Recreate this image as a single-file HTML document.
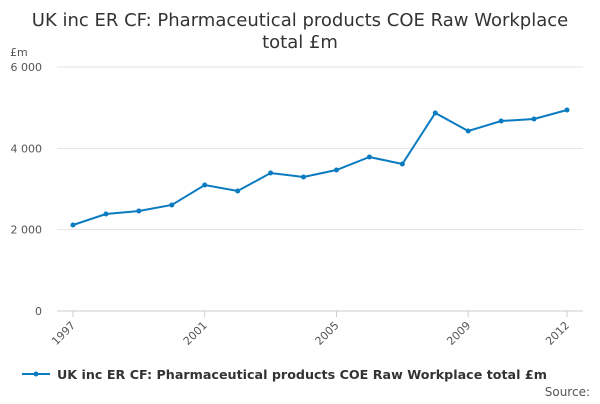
<!DOCTYPE html>
<html><head><meta charset="utf-8"><style>
body{margin:0;background:#fff;width:600px;height:400px;overflow:hidden;font-family:"DejaVu Sans","Liberation Sans",sans-serif;}
</style></head><body>
<svg width="600" height="400" xmlns="http://www.w3.org/2000/svg">
<text x="300" y="26" text-anchor="middle" font-size="18" fill="#333"><tspan x="300">UK inc ER CF: Pharmaceutical products COE Raw Workplace</tspan><tspan x="300" dy="22">total £m</tspan></text>
<text x="10" y="56" font-size="11" fill="#555">£m</text>
<g id="grid"></g><g id="xaxis"></g><g id="series"></g>
<g>
<line x1="22" y1="374" x2="50" y2="374" stroke="#0a7bc1" stroke-width="2"/>
<circle cx="36" cy="374" r="2.5" fill="#0a7bc1"/>
<text x="57" y="379" font-size="12.7" font-weight="bold" fill="#333">UK inc ER CF: Pharmaceutical products COE Raw Workplace total £m</text>
</g>
<text x="590" y="396" text-anchor="end" font-size="12" fill="#555">Source:</text>
</svg>
<script>
const years=[1997,1998,1999,2000,2001,2002,2003,2004,2005,2006,2007,2008,2009,2010,2011,2012];
const values=[2115,2385,2459,2607,3098,2951,3393,3295,3467,3787,3615,4869,4426,4672,4721,4943];
const yTicks=[0,2000,4000,6000];
const yTickLabels=["0","2 000","4 000","6 000"];
const xTickYears=[1997,2001,2005,2009,2012];
const NS="http://www.w3.org/2000/svg";
const x=v=>73+(v-1997)*(567-73)/15;
const y=v=>311-v*(311-67)/6000;
function mk(t,a,p){const e=document.createElementNS(NS,t);for(const k in a)e.setAttribute(k,a[k]);p.appendChild(e);return e;}
const grid=document.getElementById('grid');
yTicks.forEach((t,i)=>{
 if(t>0){const l=mk('line',{x1:57,x2:583,y1:y(t),y2:y(t),stroke:'#e3e3e3'},grid);
 
 }
 const tx=mk('text',{x:42,y:y(t)+4,'text-anchor':'end','font-size':11,fill:'#555'},grid);
 tx.textContent=yTickLabels[i];
 
 
});
const xa=document.getElementById('xaxis');
const ax=mk('line',{x1:57,x2:583,y1:311,y2:311,stroke:'#ccc'},xa);


xTickYears.forEach(yr=>{
 const tk=mk('line',{x1:x(yr),x2:x(yr),y1:311,y2:317,stroke:'#ccc'},xa);
 
 
 const tx=mk('text',{x:x(yr)+3,y:326,'text-anchor':'end','font-size':11,fill:'#555',transform:`rotate(-45 ${x(yr)+3} 326)`},xa);
 tx.textContent=yr;
 
 
});
const s=document.getElementById('series');
const pl=mk('polyline',{points:years.map((yr,i)=>x(yr)+','+y(values[i])).join(' '),fill:'none',stroke:'#0a7bc1','stroke-width':2},s);


years.forEach((yr,i)=>{
 const c=mk('circle',{cx:x(yr),cy:y(values[i]),r:2.5,fill:'#0a7bc1'},s);
 
 
});
</script>
</body></html>
